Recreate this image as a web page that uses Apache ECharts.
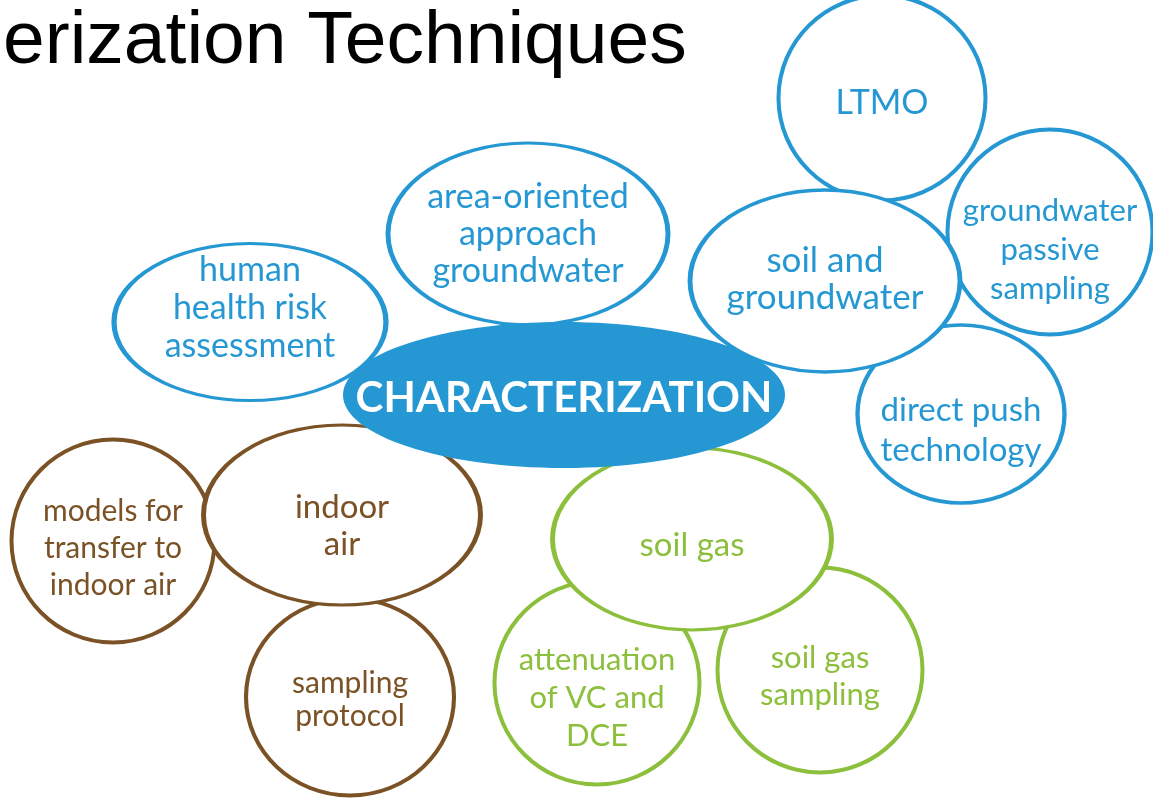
<!DOCTYPE html>
<html lang="en">
<head>
    <meta charset="UTF-8">
    <title>Characterization Techniques</title>
    <style type="text/css">
        html,body{margin:0;padding:0;background:#fff;}
        #main{width:1153px;height:801px;}
    </style>
</head>
<body>
<div id="main"></div>
<script src="https://cdn.jsdelivr.net/npm/echarts@6/dist/echarts.min.js"></script>
<script>
    // bubble labels and their place on the page (x, y in page pixels, w/h = bubble size)
    var nodeNames = [
        'LTMO', 'groundwater\npassive\nsampling', 'direct push\ntechnology', 'soil and\ngroundwater',
        'human\nhealth risk\nassessment', 'area-oriented\napproach\ngroundwater',
        'models for\ntransfer to\nindoor air', 'sampling\nprotocol', 'indoor\nair',
        'attenuation\nof VC and\nDCE', 'soil gas\nsampling', 'soil gas',
        'CHARACTERIZATION'
    ];
    var nodeGroup = ['blue', 'blue', 'blue', 'blue', 'blue', 'blue',
        'brown', 'brown', 'brown', 'green', 'green', 'green', 'center'];
    var nodeX = [882, 1050, 961, 825, 250, 528, 113, 350, 342, 597, 820, 692, 564];
    var nodeY = [98, 232, 414, 281, 322, 234, 541, 697, 515, 683, 670, 539, 395];
    var nodeW = [207, 205, 207, 270, 272, 280, 203, 208, 277, 205, 205, 279, 442];
    var nodeH = [205, 205, 178, 182, 157, 182, 203, 197, 180, 203, 205, 182, 146];

    var colors = {blue: '#2598d3', brown: '#7a5226', green: '#8cbf3b', center: '#2598d3'};
    var fontSizes = [34, 31, 33, 35, 34, 34, 30, 30, 33, 31, 31, 33, 42];
    var lineHeights = [38, 39, 40, 37, 38, 37, 37, 33, 37, 38, 37, 38, 44];
    var labelShift = [5, 18, 16, -2, -14, 0, 7, 3, 11, 15, 6, 6, 3];

    var ellipse = 'path://M50,0 C77.6,0 100,22.4 100,50 C100,77.6 77.6,100 50,100 C22.4,100 0,77.6 0,50 C0,22.4 22.4,0 50,0 Z';

    var data = [];
    for (var i = 0; i < nodeNames.length; i++) {
        var g = nodeGroup[i];
        var isCenter = g === 'center';
        data.push({
            name: nodeNames[i],
            value: [nodeX[i], nodeY[i]],
            symbolSize: [nodeW[i], nodeH[i]],
            itemStyle: {
                color: isCenter ? colors.center : '#fff',
                borderColor: colors[g],
                borderWidth: isCenter ? 0 : 4,
                opacity: 1
            },
            label: {
                show: true,
                formatter: '{b}',
                position: 'inside',
                offset: [0, labelShift[i]],
                color: isCenter ? '#fff' : colors[g],
                fontFamily: 'Lato',
                fontWeight: isCenter ? 'bold' : 'normal',
                fontSize: fontSizes[i],
                lineHeight: lineHeights[i],
                align: 'center',
                verticalAlign: 'middle'
            }
        });
    }

    var myChart = echarts.init(document.getElementById('main'));
    var option = {
        animation: false,
        title: {
            text: 'erization Techniques',
            left: -2,
            top: 0,
            textStyle: {
                fontFamily: 'Liberation Sans',
                fontWeight: 'normal',
                fontSize: 75,
                color: '#000'
            }
        },
        grid: {left: 0, right: 0, top: 0, bottom: 0},
        xAxis: {type: 'value', min: 0, max: 1153, show: false},
        yAxis: {type: 'value', min: 0, max: 801, inverse: true, show: false},
        series: [{
            type: 'scatter',
            symbol: ellipse,
            data: data,
            itemStyle: {opacity: 1},
            emphasis: {disabled: true}
        }]
    };
    myChart.setOption(option);
</script>
</body>
</html>
